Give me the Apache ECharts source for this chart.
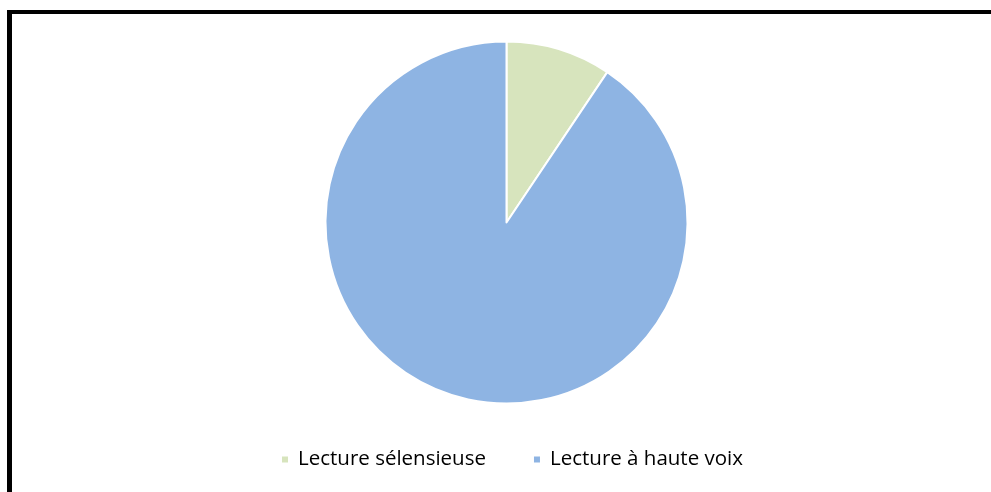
<!DOCTYPE html>
<html><head><meta charset="utf-8">
<script src="https://cdn.jsdelivr.net/npm/echarts@6/dist/echarts.min.js"></script>
<style>html,body{margin:0;padding:0;background:#fff}#c{width:991px;height:492px}</style>
</head><body><div id="c"></div>
<script>
const categories = ['Lecture sélensieuse', 'Lecture à haute voix'];
const values = [9.4, 90.6];
const colors = ['#D7E4BD', '#8EB4E3'];

const chart = echarts.init(document.getElementById('c'), null, {renderer: 'canvas'});
chart.setOption({
  animation: false,
  color: colors,
  graphic: [
    {type: 'rect', shape: {x: 7, y: 10, width: 5, height: 500}, style: {fill: '#000'}},
    {type: 'rect', shape: {x: 7, y: 10, width: 1000, height: 4}, style: {fill: '#000'}}
  ],
  legend: {
    data: categories,
    left: 280, top: 449, padding: 0,
    itemWidth: 8, itemHeight: 8, itemGap: 46,
    icon: 'rect',
    textStyle: {fontFamily: 'Open Sans', fontSize: 20.5, color: '#000', padding: [0, 0, 0, 4]}
  },
  series: [{
    type: 'pie',
    center: [506.5, 222.5],
    radius: 181,
    startAngle: 90,
    clockwise: true,
    label: {show: false},
    labelLine: {show: false},
    emphasis: {disabled: true},
    itemStyle: {borderColor: '#fff', borderWidth: 2},
    data: categories.map((n, i) => ({name: n, value: values[i]}))
  }]
});
</script></body></html>
